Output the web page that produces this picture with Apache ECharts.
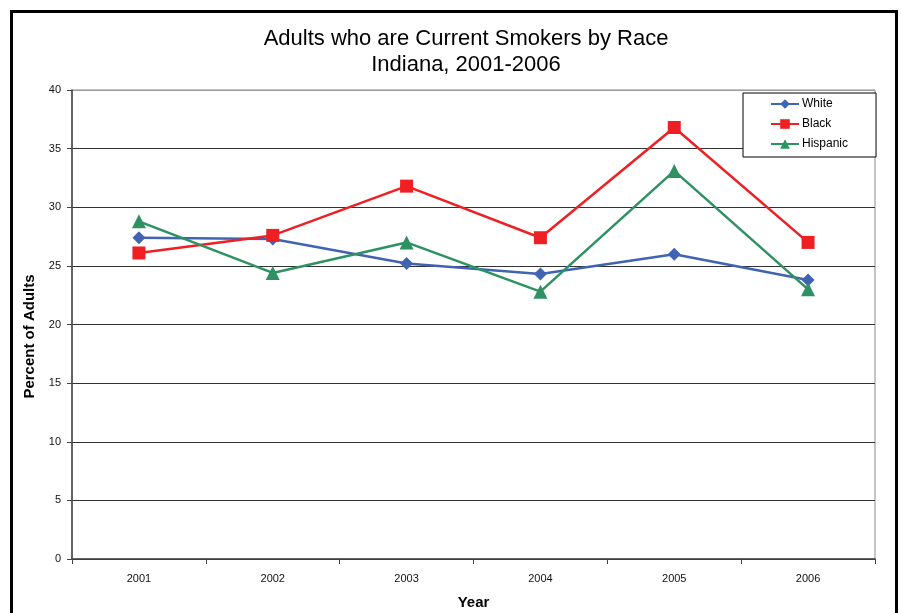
<!DOCTYPE html>
<html>
<head>
<meta charset="utf-8">
<script src="https://cdn.jsdelivr.net/npm/echarts@6/dist/echarts.min.js"></script>
<style>
  html, body { margin: 0; padding: 0; background: #fff; }
  #chart { width: 901px; height: 613px; }
</style>
</head>
<body>
<div id="chart"></div>
<script>
// Survey years and percent of adults who currently smoke, by race
const years = ['2001', '2002', '2003', '2004', '2005', '2006'];
const white = [27.4, 27.3, 25.2, 24.3, 26.0, 23.8];
const black = [26.1, 27.6, 31.8, 27.4, 36.8, 27.0];
const hispanic = [28.8, 24.4, 27.0, 22.8, 33.1, 23.0];
const yTicks = [0, 5, 10, 15, 20, 25, 30, 35, 40];

const FONT = '"Liberation Sans", Arial, sans-serif';
const chart = echarts.init(document.getElementById('chart'), null, { renderer: 'canvas' });

function lineSeries(name, data, color, symbol, size) {
  return {
    name, type: 'line', data,
    symbol, symbolSize: size,
    lineStyle: { color, width: 2.5 },
    itemStyle: { color },
    emphasis: { disabled: true },
    animation: false
  };
}

chart.setOption({
  animation: false,
  backgroundColor: '#fff',
  textStyle: { fontFamily: FONT },
  title: {
    text: 'Adults who are Current Smokers by Race\nIndiana, 2001-2006',
    left: 461, top: 21, textAlign: 'center',
    textStyle: { fontFamily: FONT, fontSize: 22, fontWeight: 'normal', color: '#000', lineHeight: 26 }
  },
  legend: {
    orient: 'vertical',
    left: 743, top: 93,
    padding: [5, 28, 7, 27],
    itemWidth: 28, itemHeight: 12, itemGap: 8,
    backgroundColor: '#fff',
    borderColor: '#000', borderWidth: 1,
    textStyle: { fontFamily: FONT, fontSize: 12, color: '#000', padding: [0, 0, 0, -2] },
    data: ['White', 'Black', 'Hispanic']
  },
  grid: {
    left: 72, top: 90, right: 26, bottom: 54,
    outerBoundsMode: 'none', containLabel: false,
    show: true, borderColor: '#8c8c8c', borderWidth: 1, backgroundColor: '#fff'
  },
  xAxis: {
    type: 'category', data: years, boundaryGap: true,
    axisLine: { lineStyle: { color: '#444', width: 1.5 } },
    axisTick: { show: true, length: 5, inside: false, lineStyle: { color: '#444' } },
    axisLabel: { fontFamily: FONT, fontSize: 11, color: '#111', margin: 14 },
    name: 'Year', nameLocation: 'middle', nameGap: 36,
    nameTextStyle: { fontFamily: FONT, fontSize: 15, fontWeight: 'bold', color: '#000' }
  },
  yAxis: {
    type: 'value', min: yTicks[0], max: yTicks[yTicks.length - 1], interval: 5,
    axisLine: { show: true, lineStyle: { color: '#444', width: 1.5 } },
    axisTick: { show: true, length: 5, lineStyle: { color: '#444' } },
    axisLabel: { fontFamily: FONT, fontSize: 11, color: '#111', margin: 11 },
    splitLine: {
      show: true,
      lineStyle: { color: ['#333', '#333', '#333', '#333', '#333', '#333', '#333', '#333', '#999'], width: 1.2 }
    },
    name: 'Percent of Adults', nameLocation: 'middle', nameGap: 35, nameRotate: 90,
    nameTextStyle: { fontFamily: FONT, fontSize: 15, fontWeight: 'bold', color: '#000', padding: [0, 0, 0, -24] }
  },
  graphic: [{
    type: 'rect', silent: true, z: 100,
    shape: { x: 11.5, y: 11.5, width: 885, height: 640 },
    style: { fill: 'none', stroke: '#000', lineWidth: 3 }
  }],
  series: [
    lineSeries('White', white, '#4163b3', 'diamond', 13),
    lineSeries('Black', black, '#ee2024', 'rect', 13),
    lineSeries('Hispanic', hispanic, '#2e9162', 'triangle', 14)
  ]
});
</script>
</body>
</html>
